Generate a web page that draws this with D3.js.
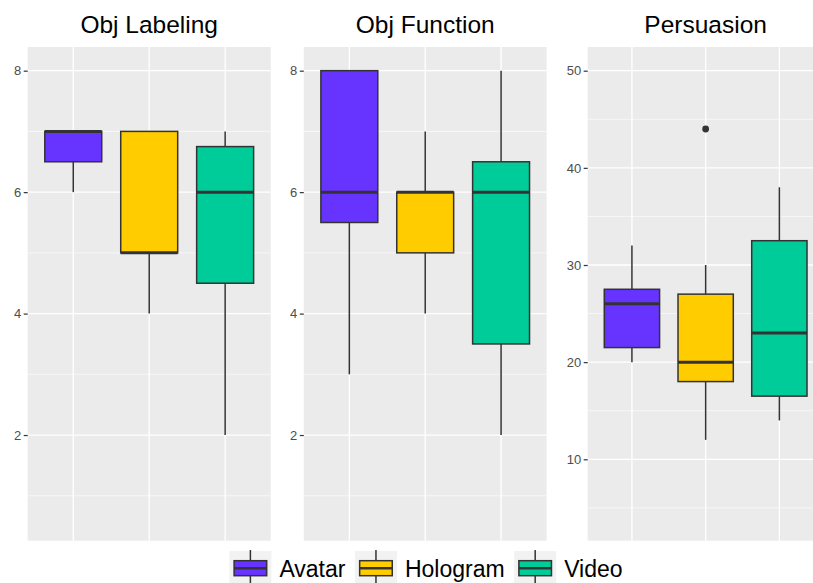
<!DOCTYPE html>
<html>
<head>
<meta charset="utf-8">
<script src="https://cdn.jsdelivr.net/npm/d3@7"></script>
<style>
  html, body { margin: 0; padding: 0; background: #fff; }
  svg { display: block; }
</style>
</head>
<body>
<svg id="chart" width="813" height="583"></svg>
<script>
// Groups and facets
const groups = ["Avatar", "Hologram", "Video"];
const colors = ["#6633FF", "#FFCC00", "#00CC99"];
const panelTitles = ["Obj Labeling", "Obj Function", "Persuasion"];

// Box statistics per panel, one value per group (Avatar, Hologram, Video)
const whiskerLow = [[6, 4, 2], [3, 4, 2], [20, 12, 14]];
const q1         = [[6.5, 5, 4.5], [5.5, 5, 3.5], [21.5, 18, 16.5]];
const median     = [[7, 5, 6], [6, 6, 6], [26, 20, 23]];
const q3         = [[7, 7, 6.75], [8, 6, 6.5], [27.5, 27, 32.5]];
const whiskerHigh= [[7, 7, 7], [8, 7, 8], [32, 30, 38]];
const outliers   = [[[], [], []], [[], [], []], [[], [44], []]];

// Axis settings per panel
const yLimits = [[0.26, 8.39], [0.26, 8.39], [1.62, 52.44]];
const yMajor  = [[2, 4, 6, 8], [2, 4, 6, 8], [10, 20, 30, 40, 50]];
const yMinor  = [[1, 3, 5, 7], [1, 3, 5, 7], [5, 15, 25, 35, 45]];

const svg = d3.select("#chart");
const font = "'Liberation Sans', Arial, Helvetica, sans-serif";

const panelBox = [
  { left: 27.7, right: 270.7 },
  { left: 303.8, right: 546.6 },
  { left: 587.7, right: 823.6 }
];
const plotTop = 47, plotBottom = 540.7;

panelTitles.forEach((title, p) => {
  const { left, right } = panelBox[p];
  const g = svg.append("g");

  const x = d3.scalePoint().domain(groups).range([left, right]).padding(0.6);
  const y = d3.scaleLinear().domain(yLimits[p]).range([plotBottom, plotTop]);
  const boxW = x.step() * 0.75;

  // panel background
  g.append("rect")
    .attr("x", left).attr("y", plotTop)
    .attr("width", right - left).attr("height", plotBottom - plotTop)
    .attr("fill", "#EBEBEB");

  // grid lines
  g.selectAll(".minor").data(yMinor[p]).join("line")
    .attr("x1", left).attr("x2", right)
    .attr("y1", d => y(d)).attr("y2", d => y(d))
    .attr("stroke", "#fff").attr("stroke-width", 0.6);
  g.selectAll(".major").data(yMajor[p]).join("line")
    .attr("x1", left).attr("x2", right)
    .attr("y1", d => y(d)).attr("y2", d => y(d))
    .attr("stroke", "#fff").attr("stroke-width", 1.3);
  g.selectAll(".vmajor").data(groups).join("line")
    .attr("x1", d => x(d)).attr("x2", d => x(d))
    .attr("y1", plotTop).attr("y2", plotBottom)
    .attr("stroke", "#fff").attr("stroke-width", 1.3);

  // y axis
  const axis = d3.axisLeft(y).tickValues(yMajor[p]).tickSize(4).tickPadding(2.5);
  const ax = g.append("g").attr("transform", `translate(${left},0)`).call(axis);
  ax.select(".domain").remove();
  ax.selectAll(".tick line").attr("stroke", "#333").attr("stroke-width", 1.2);
  ax.selectAll(".tick text")
    .attr("fill", "#4D4D4D")
    .style("font-family", font)
    .style("font-size", "13px");

  // boxes
  groups.forEach((grp, i) => {
    const cx = x(grp);
    const bg = g.append("g");
    bg.append("line")
      .attr("x1", cx).attr("x2", cx)
      .attr("y1", y(whiskerHigh[p][i])).attr("y2", y(q3[p][i]))
      .attr("stroke", "#333").attr("stroke-width", 1.5);
    bg.append("line")
      .attr("x1", cx).attr("x2", cx)
      .attr("y1", y(q1[p][i])).attr("y2", y(whiskerLow[p][i]))
      .attr("stroke", "#333").attr("stroke-width", 1.5);
    bg.append("rect")
      .attr("x", cx - boxW / 2).attr("width", boxW)
      .attr("y", y(q3[p][i]))
      .attr("height", y(q1[p][i]) - y(q3[p][i]))
      .attr("fill", colors[i])
      .attr("stroke", "#333").attr("stroke-width", 1.5);
    bg.append("line")
      .attr("x1", cx - boxW / 2).attr("x2", cx + boxW / 2)
      .attr("y1", y(median[p][i])).attr("y2", y(median[p][i]))
      .attr("stroke", "#333").attr("stroke-width", 3);
    bg.selectAll("circle").data(outliers[p][i]).join("circle")
      .attr("cx", cx).attr("cy", d => y(d)).attr("r", 3.4)
      .attr("fill", "#333");
  });

  // title
  svg.append("text")
    .attr("x", (left + right) / 2).attr("y", 32.5)
    .attr("text-anchor", "middle")
    .style("font-family", font).style("font-size", "24.5px")
    .attr("fill", "#000")
    .text(title);
});

// legend
const legend = svg.append("g");
const keyW = 42, keyGap = 8, itemGap = 9.5;
const items = groups.map((grp, i) => {
  const it = legend.append("g");
  it.append("rect").attr("x", 0).attr("y", 551).attr("width", keyW).attr("height", keyW)
    .attr("fill", "#F2F2F2");
  it.append("line").attr("x1", keyW / 2).attr("x2", keyW / 2).attr("y1", 550).attr("y2", 590)
    .attr("stroke", "#333").attr("stroke-width", 1.5);
  it.append("rect").attr("x", 4.7).attr("y", 560.7).attr("width", keyW - 9.4).attr("height", 15)
    .attr("fill", colors[i]).attr("stroke", "#333").attr("stroke-width", 1.5);
  it.append("line").attr("x1", 4.7).attr("x2", keyW - 4.7).attr("y1", 568.2).attr("y2", 568.2)
    .attr("stroke", "#333").attr("stroke-width", 2.5);
  const t = it.append("text").attr("x", keyW + keyGap).attr("y", 576.7)
    .style("font-family", font).style("font-size", "23px").attr("fill", "#000")
    .text(grp);
  return { g: it, w: keyW + keyGap + t.node().getComputedTextLength() };
});
const totalW = d3.sum(items, d => d.w) + itemGap * (items.length - 1);
let cursor = 426 - totalW / 2;
items.forEach(d => {
  d.g.attr("transform", `translate(${cursor},0)`);
  cursor += d.w + itemGap;
});
</script>
</body>
</html>
